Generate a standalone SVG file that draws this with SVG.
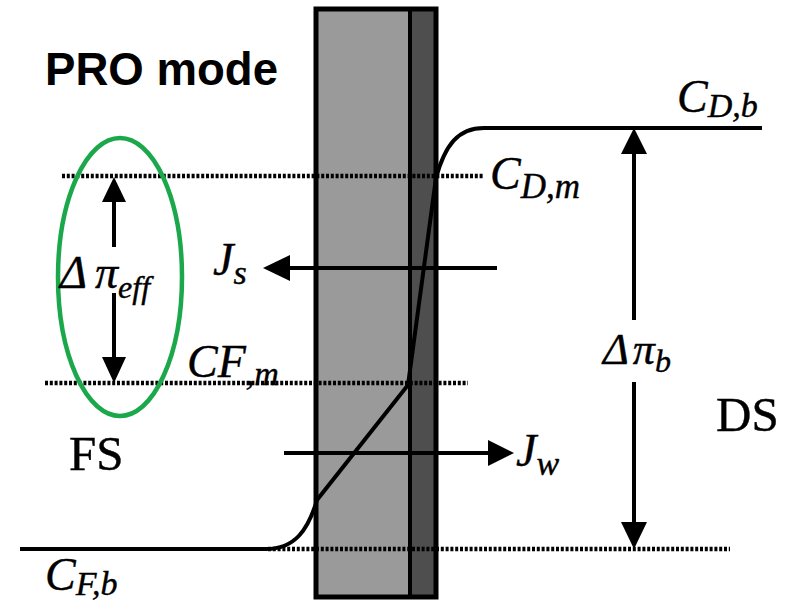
<svg xmlns="http://www.w3.org/2000/svg" width="786" height="606" viewBox="0 0 786 606">
<style>
.it{font-family:"Liberation Serif","Times New Roman",serif;font-style:italic;fill:#000;stroke:#000;stroke-width:0.4}
.up{font-family:"Liberation Serif","Times New Roman",serif;fill:#000;stroke:#000;stroke-width:0.4}
.dot{stroke:#000;stroke-width:4.5;stroke-dasharray:3 1.8;fill:none}
.ln{stroke:#000;stroke-width:4;fill:none}
.hd{fill:#000}
</style>
<rect width="786" height="606" fill="#fff"/>
<g id="title"><text x="45" y="85" font-family="Liberation Sans, Arial, sans-serif" font-weight="bold" font-size="47" textLength="233" lengthAdjust="spacingAndGlyphs">PRO mode</text></g>
<g id="membrane">
<rect x="316" y="9" width="94" height="588" fill="#9a9a9a"/>
<rect x="410" y="9" width="26" height="588" fill="#4e4e4e"/>
<rect x="316" y="9" width="120" height="588" fill="none" stroke="#000" stroke-width="5"/>
<line x1="410" y1="9" x2="410" y2="597" stroke="#000" stroke-width="4"/>
</g>
<g id="levels">
<line class="dot" x1="62" y1="176" x2="484" y2="176"/>
<line class="dot" x1="45" y1="383" x2="468" y2="383"/>
<line class="dot" x1="268" y1="549" x2="730" y2="549"/>
</g>
<g id="profile">
<path class="ln" d="M20 549 L266 549 C295 549 308 530 317 500 L408 385 L436 178 C445 145 458 128 484 128 L762 128"/>
</g>
<g id="connectors">
<g id="Js-arrow"><line class="ln" x1="497" y1="268" x2="288" y2="268"/><polygon class="hd" points="263,268 290,255 290,281"/></g>
<g id="Jw-arrow"><line class="ln" x1="284" y1="453" x2="492" y2="453"/><polygon class="hd" points="514,453 488,440 488,466"/></g>
<g id="dpib-arrow"><line class="ln" x1="634" y1="150" x2="634" y2="320"/><line class="ln" x1="634" y1="382" x2="634" y2="526"/><polygon class="hd" points="634,128 621,154 647,154"/><polygon class="hd" points="634,549 621,522 647,522"/></g>
<g id="dpieff-arrow"><line class="ln" x1="114" y1="198" x2="114" y2="247"/><line class="ln" x1="114" y1="293" x2="114" y2="360"/><polygon class="hd" points="114,177 102,202 126,202"/><polygon class="hd" points="114,383 102,357 126,357"/></g>
</g>
<g id="highlight"><ellipse cx="120" cy="277" rx="62" ry="139" fill="none" stroke="#1ba84a" stroke-width="4.5"/></g>
<g id="labels">
<text class="it" x="677" y="112" font-size="46">C<tspan font-size="34" dy="5">D,b</tspan></text>
<text class="it" x="490" y="189" font-size="46">C<tspan font-size="35" dy="9">D,m</tspan></text>
<text class="it" x="213" y="275" font-size="46">J<tspan font-size="34" dy="9">s</tspan></text>
<text class="it" x="60" y="288" font-size="46">Δ<tspan dx="8">π</tspan><tspan font-size="32" dy="10">eff</tspan></text>
<text class="it" x="187" y="377" font-size="46">CF<tspan font-size="34" dy="8">,m</tspan></text>
<text class="it" x="603" y="364" font-size="44">Δ<tspan dx="4">π</tspan><tspan font-size="32" dy="8">b</tspan></text>
<text class="it" x="516" y="466" font-size="46">J<tspan font-size="34" dy="9">w</tspan></text>
<text class="it" x="45" y="590" font-size="46">C<tspan font-size="34" dy="5">F,b</tspan></text>
<text class="up" x="69" y="470" font-size="49">FS</text>
<text class="up" x="716" y="431" font-size="49">DS</text>
</g>
</svg>
